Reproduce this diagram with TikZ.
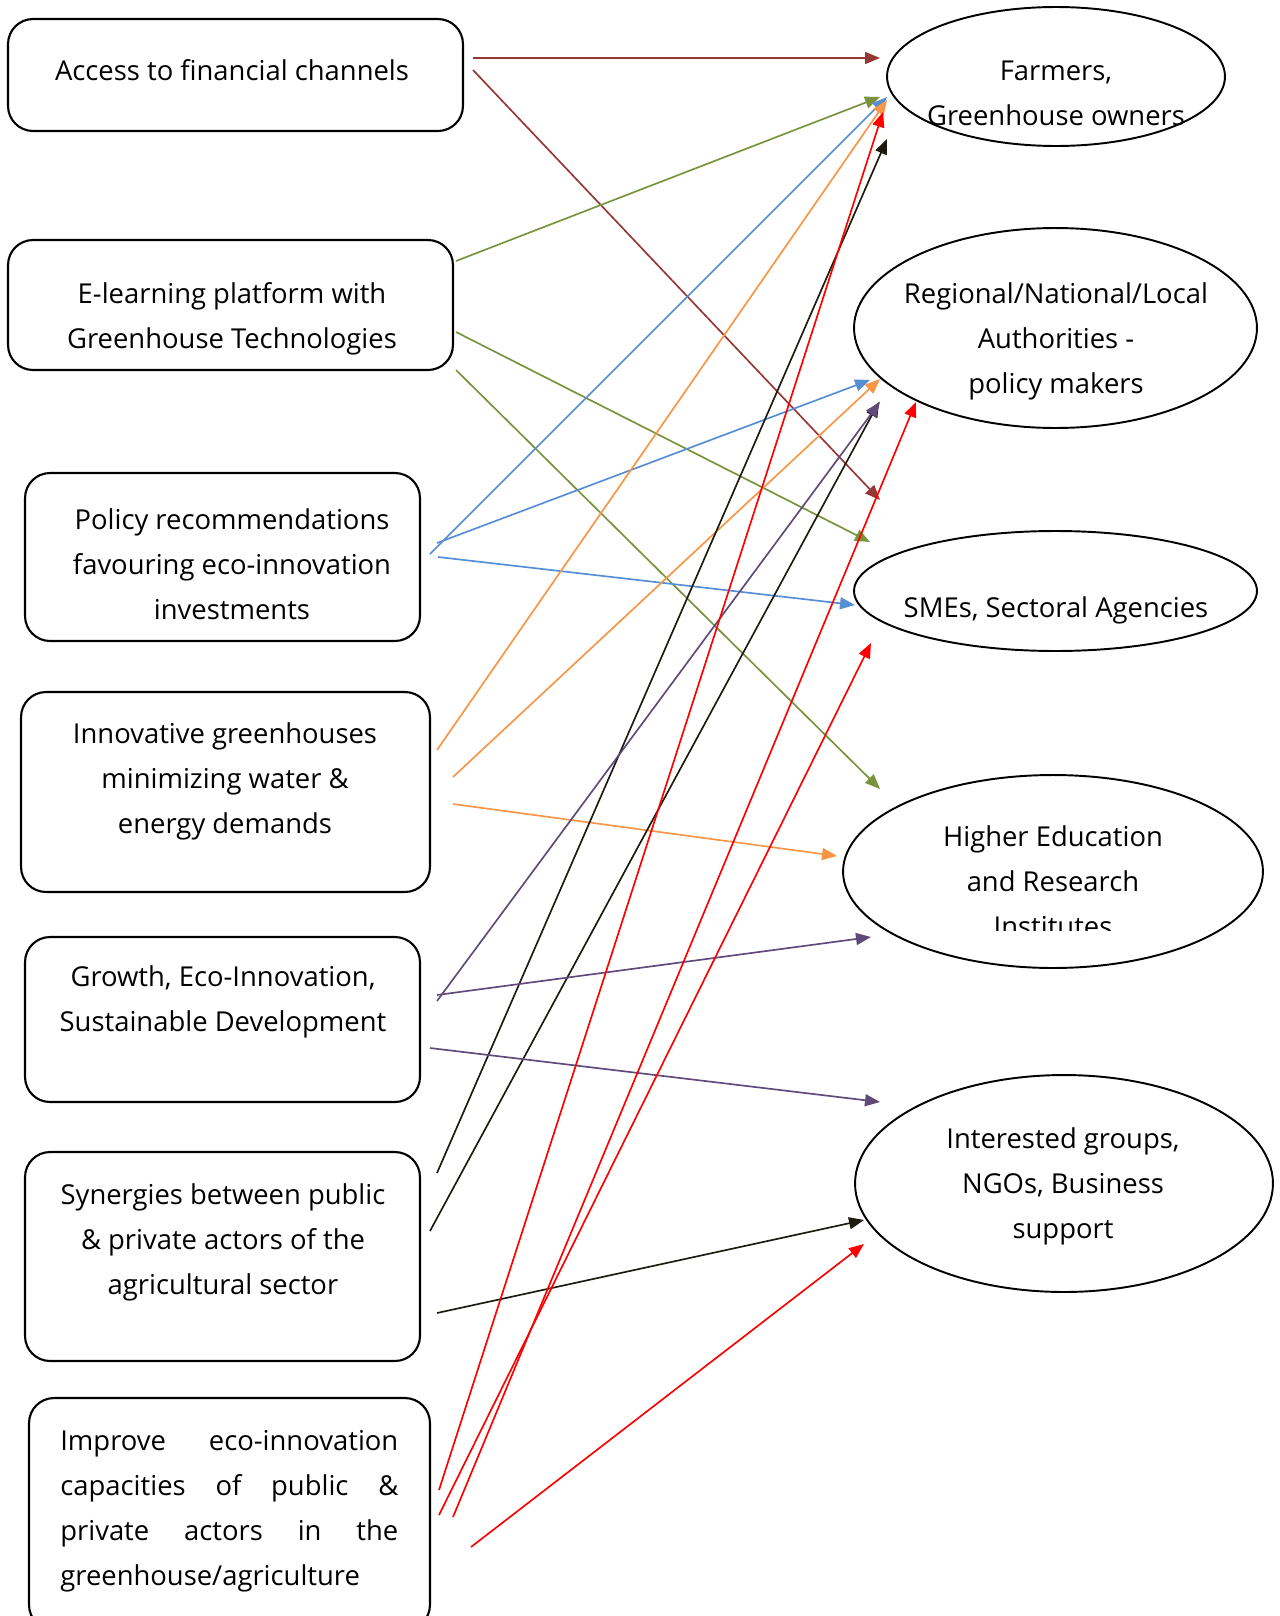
\documentclass[tikz,border=0pt]{standalone}
\usepackage{fontspec}
\setmainfont{Open Sans}
\usetikzlibrary{shapes.geometric,arrows.meta}
\definecolor{finred}{HTML}{953735}
\definecolor{learngreen}{HTML}{77933C}
\definecolor{polblue}{HTML}{558ED5}
\definecolor{innorange}{HTML}{F79646}
\definecolor{growpurple}{HTML}{604A7B}
\definecolor{synblack}{HTML}{1D1B10}
\definecolor{imprred}{HTML}{FF0000}
\begin{document}
\begin{tikzpicture}[x=0.02cm, y=-0.02cm,
			box/.style={draw, rounded corners=0.5cm, line width=1.2pt},
			oval/.style={draw, ellipse, line width=1.1pt, inner sep=0pt},
			txt/.style={align=center, inner sep=0pt, font=\fontsize{15.6}{25.6}\selectfont},
			con/.style={-{Triangle[length=0.3cm,width=0.24cm]}, line width=0.95pt}]
			
			\clip (0,0) rectangle (1279,1616);
			
			% outputs
			\node[box, minimum width=9.1cm, minimum height=2.24cm] (fin) at (235.5,75) {};
			\node[box, minimum width=8.9cm, minimum height=2.6cm] (learn) at (230.5,305) {};
			\node[box, minimum width=7.9cm, minimum height=3.36cm] (pol) at (222.5,557) {};
			\node[box, minimum width=8.18cm, minimum height=4cm] (inno) at (225.5,792) {};
			\node[box, minimum width=7.9cm, minimum height=3.3cm] (grow) at (222.5,1019.5) {};
			\node[box, minimum width=7.9cm, minimum height=4.18cm] (syn) at (222.5,1256.5) {};
			\node[box, minimum width=8.02cm, minimum height=4.64cm] (impr) at (229.5,1514) {};
			
			\node[txt] (fin-t) at (232,70) {Access to financial channels};
			\node[txt] (learn-t) at (232,318.5) {E-learning platform with\\Greenhouse Technologies};
			\node[txt] (pol-t) at (232,564) {Policy recommendations\\favouring eco-innovation\\investments};
			\node[txt] (inno-t) at (225,781) {Innovative greenhouses\\minimizing water \&\\energy demands};
			\node[txt] (grow-t) at (223,1002) {Growth, Eco-Innovation,\\Sustainable Development};
			\node[txt] (syn-t) at (223,1242.5) {Synergies between public\\\& private actors of the\\agricultural sector};
			\node[txt, align=left, anchor=west] (impr-t) at (60,1511) {\makebox[6.76cm][s]{Improve eco-innovation}\\
				\makebox[6.76cm][s]{capacities of public \&}\\
				\makebox[6.76cm][s]{private actors in the}\\
				greenhouse/agriculture};
			
			% target groups
			\node[oval, minimum width=6.76cm, minimum height=2.78cm] (farm) at (1056,76.5) {};
			\node[oval, minimum width=8.06cm, minimum height=4cm] (auth) at (1055.5,328) {};
			\node[oval, minimum width=8.06cm, minimum height=2.4cm] (sme) at (1055.5,591) {};
			\node[oval, minimum width=8.4cm, minimum height=3.86cm] (uni) at (1053,871.5) {};
			\node[oval, minimum width=8.36cm, minimum height=4.34cm] (ngo) at (1064,1183.5) {};
			
			\node[txt] (farm-t) at (1056,93) {Farmers,\\Greenhouse owners};
			\node[txt] (auth-t) at (1056,341.5) {Regional/National/Local\\Authorities -\\policy makers};
			\node[txt] (sme-t) at (1056,610) {SMEs, Sectoral Agencies};
			\begin{scope}
				\clip (843,775) rectangle (1263,930);
				\node[txt] (uni-t) at (1053,881) {Higher Education\\and Research\\Institutes};
			\end{scope}
			\node[txt] (ngo-t) at (1063,1186) {Interested groups,\\NGOs, Business\\support};
			
			% arrow ends
			\coordinate (fin-1) at (473,58); \coordinate (fin-2) at (473,70);
			\coordinate (learn-1) at (456,261); \coordinate (learn-2) at (456,332); \coordinate (learn-3) at (456,370);
			\coordinate (pol-1) at (430,554); \coordinate (pol-2) at (437,543); \coordinate (pol-3) at (438,557);
			\coordinate (inno-1) at (437,750); \coordinate (inno-2) at (453,777); \coordinate (inno-3) at (453,804);
			\coordinate (grow-1) at (437,1001); \coordinate (grow-2) at (437,995); \coordinate (grow-3) at (430,1048);
			\coordinate (syn-1) at (437,1173); \coordinate (syn-2) at (430,1231); \coordinate (syn-3) at (437,1313);
			\coordinate (impr-1) at (439,1490); \coordinate (impr-2) at (453,1517); \coordinate (impr-3) at (439,1515); \coordinate (impr-4) at (471,1547);
			
			\coordinate (farm-1) at (880,58); \coordinate (farm-2) at (880,97); \coordinate (farm-3) at (887,97);
			\coordinate (farm-4) at (887,100); \coordinate (farm-5) at (887,139); \coordinate (farm-6) at (883,112);
			\coordinate (auth-1) at (870,380); \coordinate (auth-2) at (880,379); \coordinate (auth-3) at (880,402);
			\coordinate (auth-4) at (879,402); \coordinate (auth-5) at (916,402);
			\coordinate (sme-1) at (880,500); \coordinate (sme-2) at (870,542); \coordinate (sme-3) at (855,605); \coordinate (sme-4) at (871,643);
			\coordinate (uni-1) at (880,789); \coordinate (uni-2) at (837,856); \coordinate (uni-3) at (871,937);
			\coordinate (ngo-1) at (880,1102); \coordinate (ngo-2) at (864,1220); \coordinate (ngo-3) at (864,1244);
			
			% connectors
			\draw[con, finred] (fin-1) -- (farm-1);
			\draw[con, finred] (fin-2) -- (sme-1);
			\draw[con, learngreen] (learn-1) -- (farm-2);
			\draw[con, learngreen] (learn-2) -- (sme-2);
			\draw[con, learngreen] (learn-3) -- (uni-1);
			\draw[con, polblue] (pol-1) -- (farm-3);
			\draw[con, polblue] (pol-2) -- (auth-1);
			\draw[con, polblue] (pol-3) -- (sme-3);
			\draw[con, innorange] (inno-1) -- (farm-4);
			\draw[con, innorange] (inno-2) -- (auth-2);
			\draw[con, innorange] (inno-3) -- (uni-2);
			\draw[con, synblack] (syn-1) -- (farm-5);
			\draw[con, synblack] (syn-2) -- (auth-4);
			\draw[con, synblack] (syn-3) -- (ngo-2);
			\draw[con, growpurple] (grow-1) -- (auth-3);
			\draw[con, growpurple] (grow-2) -- (uni-3);
			\draw[con, growpurple] (grow-3) -- (ngo-1);
			\draw[con, imprred] (impr-1) -- (farm-6);
			\draw[con, imprred] (impr-2) -- (auth-5);
			\draw[con, imprred] (impr-3) -- (sme-4);
			\draw[con, imprred] (impr-4) -- (ngo-3);
			\end{tikzpicture}
\end{document}
